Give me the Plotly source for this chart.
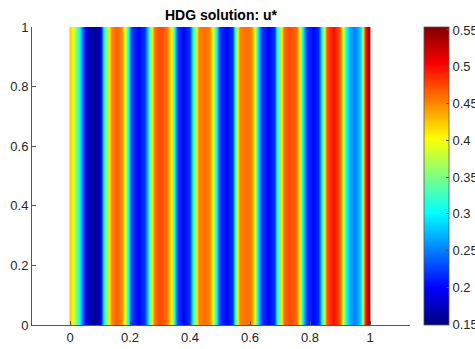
import plotly.graph_objects as go

# Profile of u* across x (solution is nearly constant along y)
x_nodes = [0.000, 0.004, 0.009, 0.030, 0.045, 0.060, 0.077, 0.097, 0.105, 0.110,
           0.127, 0.137, 0.153, 0.170, 0.180, 0.193, 0.203, 0.227, 0.247, 0.260,
           0.270, 0.280, 0.297, 0.320, 0.337, 0.347, 0.357, 0.377, 0.397, 0.409,
           0.420, 0.427, 0.447, 0.465, 0.476, 0.487, 0.497, 0.520, 0.540, 0.547,
           0.559, 0.565, 0.587, 0.605, 0.613, 0.626, 0.637, 0.660, 0.680, 0.687,
           0.703, 0.710, 0.730, 0.753, 0.763, 0.776, 0.787, 0.810, 0.828, 0.837,
           0.847, 0.853, 0.877, 0.898, 0.909, 0.920, 0.930, 0.947, 0.962, 0.970,
           0.976, 0.984, 0.997, 1.000]
u_nodes = [0.420, 0.410, 0.400, 0.300, 0.220, 0.170, 0.160, 0.170, 0.220, 0.300,
           0.400, 0.450, 0.465, 0.450, 0.400, 0.300, 0.220, 0.200, 0.220, 0.300,
           0.400, 0.460, 0.475, 0.460, 0.400, 0.300, 0.220, 0.200, 0.220, 0.300,
           0.400, 0.450, 0.460, 0.450, 0.400, 0.300, 0.220, 0.200, 0.220, 0.300,
           0.400, 0.450, 0.460, 0.450, 0.400, 0.300, 0.220, 0.200, 0.220, 0.300,
           0.400, 0.460, 0.475, 0.460, 0.400, 0.300, 0.220, 0.200, 0.220, 0.300,
           0.400, 0.470, 0.500, 0.470, 0.400, 0.300, 0.270, 0.250, 0.270, 0.300,
           0.400, 0.500, 0.550, 0.553]
y_nodes = [0.0, 1.0]

tick_vals = [0, 0.2, 0.4, 0.6, 0.8, 1]
tick_text = ["0", "0.2", "0.4", "0.6", "0.8", "1"]
cb_vals = [0.15, 0.2, 0.25, 0.3, 0.35, 0.4, 0.45, 0.5, 0.55]
cb_text = ["0.15", "0.2", "0.25", "0.3", "0.35", "0.4", "0.45", "0.5", "0.55"]

jet = [[0.0, "#000080"], [0.125, "#0000ff"], [0.375, "#00ffff"],
       [0.625, "#ffff00"], [0.875, "#ff0000"], [1.0, "#800000"]]

W, H = 475, 349
L, R, T, B = 32, 410, 27, 325
pw = R - L

z = [u_nodes for _ in y_nodes]

fig = go.Figure(go.Heatmap(
    x=x_nodes, y=y_nodes, z=z, zsmooth="best",
    colorscale=jet, zmin=0.149, zmax=0.554,
    colorbar=dict(
        x=(424 - L) / pw, xanchor="left", xpad=0, ypad=0,
        y=0.5, yanchor="middle", len=1, lenmode="fraction",
        thickness=25, thicknessmode="pixels",
        outlinewidth=0.8, outlinecolor="#555555",
        tickmode="array", tickvals=cb_vals, ticktext=cb_text,
        ticks="inside", ticklen=3, tickcolor="#555555",
        tickfont=dict(family="Liberation Sans, Arial", size=13, color="#262626"),
    ),
    hoverinfo="skip",
))

axis_font = dict(family="Liberation Sans, Arial", size=13, color="#262626")
fig.update_layout(
    width=W, height=H,
    margin=dict(l=L, r=W - R, t=T, b=H - B, pad=0, autoexpand=False),
    paper_bgcolor="white", plot_bgcolor="white",
    title=dict(text="<b>HDG solution: u*</b>", x=0.5, xref="paper",
               y=1 - 15 / H, yref="container", yanchor="middle", xanchor="center",
               font=dict(family="Liberation Sans, Arial", size=14, color="black")),
    xaxis=dict(range=[-0.1267, 1.1333], tickmode="array", tickvals=tick_vals,
               ticktext=tick_text, ticks="inside", ticklen=4, tickcolor="#555555",
               showline=True, linecolor="#555555", linewidth=1,
               showgrid=False, zeroline=False, tickfont=axis_font),
    yaxis=dict(range=[0, 1], tickmode="array", tickvals=tick_vals,
               ticktext=tick_text, ticks="inside", ticklen=4, tickcolor="#555555",
               showline=True, linecolor="#555555", linewidth=1,
               showgrid=False, zeroline=False, tickfont=axis_font),
)

fig.write_html("out.html")
